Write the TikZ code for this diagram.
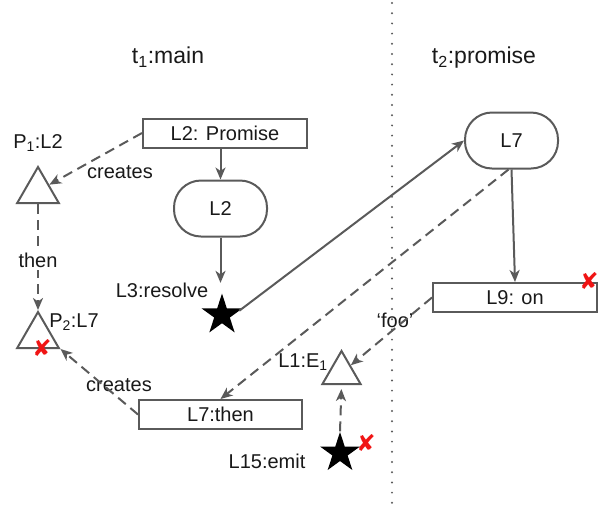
\documentclass[tikz,border=0pt]{standalone}
\usepackage{fontspec}
\setmainfont{Liberation Sans}
\newfontfamily\symfont{DejaVu Sans}
\usetikzlibrary{shapes.geometric,arrows.meta,calc}
\definecolor{lg}{RGB}{90,90,90}
\definecolor{tx}{RGB}{25,25,25}
\definecolor{rx}{RGB}{240,20,20}
\begin{document}
\begin{tikzpicture}[x=1pt,y=-1pt,
  every node/.style={font=\fontsize{20}{24}\selectfont, text=tx},
  box/.style={draw=lg, line width=2pt, minimum width=164pt, minimum height=29pt, inner sep=0pt},
  pill/.style={draw=lg, line width=2pt, rounded corners=27pt, minimum width=93pt, minimum height=56pt, inner sep=0pt},
  tri/.style={draw=lg, line width=2pt, regular polygon, regular polygon sides=3, minimum size=48pt, inner sep=0pt},
  starn/.style={star, star points=5, star point ratio=2.618, fill=black, minimum size=43pt, inner sep=0pt},
  arr/.style={draw=lg, line width=2pt, -{Stealth[length=12pt,width=10pt,inset=3.5pt]}},
  dsh/.style={arr, dash pattern=on 10pt off 6pt},
  title/.style={font=\fontsize{23}{27}\selectfont},
  redx/.style={text=rx, font=\symfont\fontsize{23}{26}\selectfont, inner sep=0pt},
]
\useasboundingbox (0,0) rectangle (601,507);

% separator
\coordinate (septop) at (392,3);
\coordinate (sepbot) at (392,507);
\draw[lg, line width=2.2pt, dash pattern=on 0pt off 10.2pt, line cap=round] (septop) -- (sepbot);

% titles
\node[title] (t1) at (168,57) {t\textsubscript{1}:main};
\node[title] (t2) at (484,58) {t\textsubscript{2}:promise};

% main nodes
\node[box] (prom) at (225,133) {L2: Promise};
\node[pill] (l2) at (220.5,208.5) {L2};
\node[starn] (s3) at (222,315) {};
\node (s3l) at (162,290) {L3:resolve};
\node[pill] (l7) at (511.5,140.5) {L7};
\node[box] (l9) at (515,297.5) {L9: on};
\node[box, minimum width=163pt] (then) at (220.5,414.5) {L7:then};

\node[tri] (p1) at (38,191) {};
\node (p1l) at (38,143) {P\textsubscript{1}:L2};
\node[tri] (p2) at (38,336) {};
\node (p2l) at (74,322) {P\textsubscript{2}:L7};
\node[tri, minimum size=44pt] (e1) at (341.5,373) {};
\node (e1l) at (303,362) {L1:E\textsubscript{1}};
\node[starn, minimum size=42pt] (s15) at (340,453) {};
\node (s15l) at (267,461) {L15:emit};

% red crosses
\node[redx] (x1) at (42,348) {✘};
\node[redx] (x2) at (589,281) {✘};
\node[redx] (x3) at (366,443) {✘};

% labels
\node (c1) at (120,172) {creates};
\node (c2) at (119,385) {creates};
\node (foo) at (395,320) {‘foo’};

% connectors
\draw[arr] (prom.south -| l2.north) -- (l2.north);
\draw[arr, shorten >=10pt] (l2.south) -- (l2.south |- s3.north);
\draw[arr, shorten <=7pt] (s3.east) -- (l7.west);
\draw[arr] (l7.south) -- (l9.north);
\draw[dsh] ([xshift=-3pt]l7.south) -- (then.north);
\draw[dsh] (l9.west) -- (e1);
\draw[dsh, shorten >=4pt] (s15.north) -- (e1.south);
\draw[dsh] (prom.west) -- (p1);
\draw[dsh] (p1.south) -- node[fill=white, inner sep=2pt, pos=0.53] (thn) {then} (p2.north);
\draw[dsh] (then.west) -- (p2.corner 3);
\end{tikzpicture}
\end{document}
